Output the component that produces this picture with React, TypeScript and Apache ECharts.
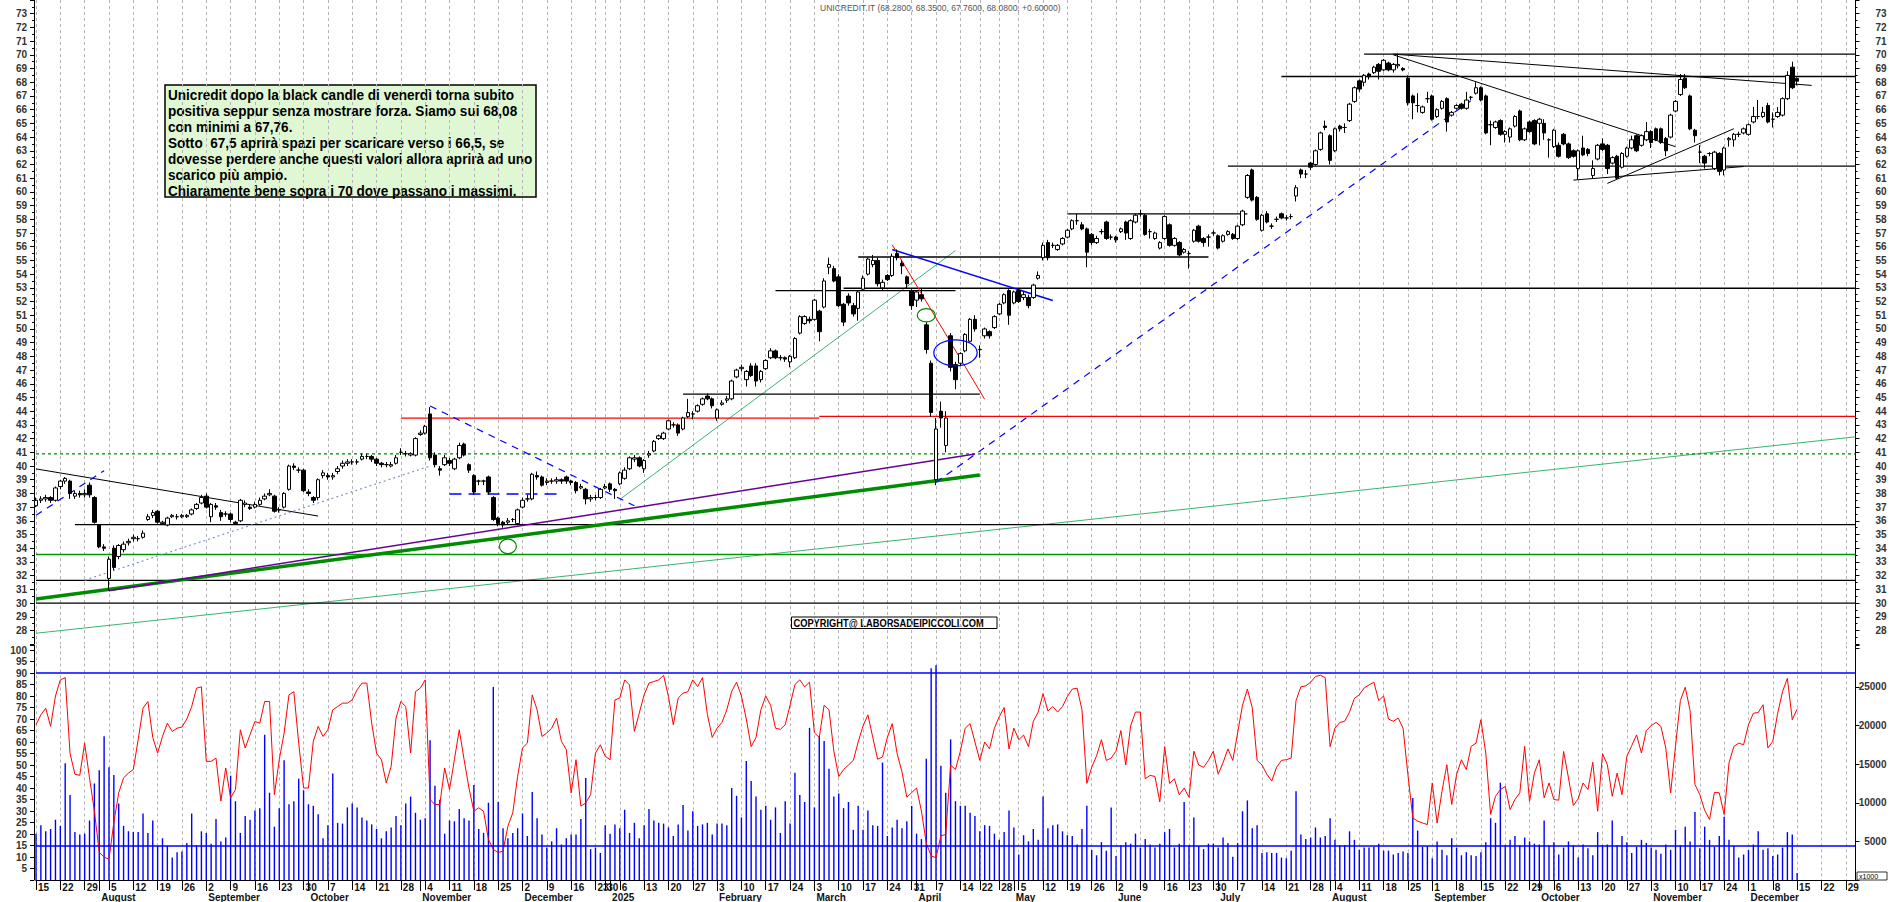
import React, { useEffect, useRef } from 'react';
import * as echarts from 'echarts';

const FONT = 'Liberation Sans, Arial, sans-serif';
const HOLIDAYS = ['2024-12-24', '2024-12-25', '2024-12-26', '2024-12-31', '2025-01-01', '2025-04-18', '2025-04-21', '2025-05-01'];
const LAST_DATA_DAY = '2025-12-15';
const MONTH_NAMES = ['January', 'February', 'March', 'April', 'May', 'June', 'July', 'August', 'September', 'October', 'November', 'December'];

// OHLC per month: [open, close, low, high]
const jul24 = [[37.1,37.5,37.0,37.7],[37.5,37.6,37.3,37.8],[37.6,37.7,37.4,37.9],[37.7,37.5,37.3,37.8],[37.5,38.4,37.4,38.5],[38.5,38.9,38.3,39.0],[38.9,39.1,38.7,39.2],[38.9,38.0,37.6,39.0],[37.8,38.0,37.6,38.2],[38.0,37.9,37.7,38.2],[37.9,38.0,37.7,38.3],[38.6,37.9,37.7,38.8],[37.7,35.9,35.8,37.8]];
const aug24 = [[35.7,34.1,34.0,35.7],[34.1,34.0,33.8,34.3],[31.8,33.2,30.9,33.4],[34.0,32.6,32.4,34.2],[33.4,34.2,33.2,34.3],[33.9,34.3,33.7,34.5],[34.4,34.5,34.2,34.7],[34.7,34.8,34.5,35.0],[34.7,34.7,34.5,34.9],[34.8,35.1,34.7,35.3],[36.1,36.3,36.0,36.5],[36.4,36.6,36.2,36.8],[36.7,35.9,35.8,36.8],[35.8,35.9,35.7,36.0],[35.7,36.2,35.6,36.3],[36.3,36.4,36.2,36.5],[36.3,36.3,36.1,36.5],[36.3,36.4,36.2,36.5],[36.3,36.4,36.2,36.5],[36.5,36.8,36.4,36.9],[36.9,37.2,36.8,37.3],[37.3,37.7,37.2,37.9]];
const sep24 = [[37.8,37.0,36.9,38.0],[36.3,37.2,35.9,37.3],[37.1,37.0,36.8,37.3],[36.6,36.3,36.0,36.8],[36.5,36.5,36.3,36.7],[36.5,36.1,35.9,36.6],[35.9,35.8,35.7,36.0],[36.0,37.5,35.9,37.6],[37.2,37.3,37.0,37.5],[37.0,36.9,36.8,37.2],[37.0,37.2,36.9,37.4],[37.2,37.5,37.1,37.7],[37.6,37.8,37.5,38.0],[37.9,38.0,37.8,38.3],[37.8,36.7,36.6,37.9],[36.8,36.8,36.6,37.0],[37.0,38.0,36.9,38.1],[38.3,40.0,38.2,40.1],[40.0,39.9,39.7,40.2],[39.7,39.7,39.5,39.9],[39.7,38.2,38.1,39.8]];
const oct24 = [[38.1,38.0,37.8,38.3],[37.7,37.5,37.3,37.8],[37.7,39.0,37.5,39.1],[39.3,39.5,39.1,39.7],[39.3,39.2,39.0,39.5],[39.2,39.3,39.0,39.5],[39.6,39.8,39.4,40.0],[40.0,40.2,39.8,40.4],[40.2,40.3,40.0,40.5],[40.3,40.3,40.1,40.5],[40.3,40.3,40.1,40.5],[40.5,40.7,40.4,40.9],[40.7,40.7,40.5,40.9],[40.7,40.5,40.3,40.8],[40.5,40.2,40.0,40.6],[40.2,40.1,39.9,40.3],[40.1,40.1,39.9,40.3],[40.0,40.1,39.9,40.3],[40.2,40.6,40.1,40.8],[41.0,41.0,40.8,41.3],[40.9,40.9,40.7,41.1],[40.8,40.9,40.7,41.0],[40.8,42.0,40.7,42.1]];
const nov24 = [[42.3,42.4,42.2,42.6],[42.4,42.9,42.3,43.0],[43.8,40.6,40.4,44.3],[40.8,40.1,39.9,41.0],[39.8,39.7,39.3,40.0],[40.1,40.6,40.0,40.8],[40.4,40.2,40.0,40.6],[39.8,40.5,39.7,40.6],[40.6,41.5,40.5,41.7],[41.6,40.8,40.7,41.7],[40.1,39.7,39.5,40.2],[39.3,38.1,37.9,39.4],[38.9,38.9,38.6,39.0],[38.9,38.9,38.6,39.0],[39.2,38.1,37.9,39.3],[37.7,36.1,36.0,37.8],[36.2,35.8,35.6,36.3],[35.9,35.7,35.5,36.0],[35.9,36.0,35.7,36.2],[36.1,36.1,35.9,36.2],[35.8,36.8,35.7,36.9]];
const dec24 = [[37.0,37.5,36.9,37.7],[37.6,37.6,37.4,37.9],[37.6,39.4,37.5,39.5],[39.3,39.2,39.0,39.6],[39.2,38.6,38.5,39.3],[38.8,38.9,38.6,39.1],[38.9,38.9,38.7,39.1],[38.9,39.0,38.7,39.2],[39.0,38.9,38.7,39.1],[39.2,38.9,38.7,39.3],[38.9,38.8,38.6,39.0],[38.8,38.2,38.0,38.9],[38.4,38.5,38.3,38.7],[38.3,37.6,37.2,38.4],[37.6,37.7,37.4,37.9],[37.7,37.7,37.5,37.9],[37.7,38.3,37.6,38.4],[38.4,38.5,38.3,38.7]];
const jan25 = [[38.7,38.3,38.1,38.8],[38.3,38.2,37.6,38.4],[38.7,39.5,38.6,39.6],[39.1,39.7,39.0,39.9],[39.8,40.6,39.7,40.7],[40.5,40.6,40.3,40.8],[40.6,40.0,39.9,40.7],[39.8,40.4,39.5,40.5],[40.8,40.9,40.6,41.1],[41.1,41.8,41.0,41.9],[42.0,42.2,41.9,42.3],[42.0,42.4,41.9,42.5],[42.7,43.3,42.6,43.4],[43.0,43.0,42.8,43.2],[43.0,42.4,42.2,43.1],[42.7,43.5,42.6,43.6],[43.6,43.9,43.5,44.9],[43.8,43.8,43.4,44.0],[44.0,44.4,43.9,44.5],[44.5,44.9,44.4,45.0],[45.1,44.9,44.8,45.3],[44.9,44.4,44.2,45.0]];
const feb25 = [[43.5,44.1,43.3,44.2],[44.5,44.6,44.4,44.8],[44.8,44.9,44.6,45.1],[44.9,46.2,44.8,46.3],[46.5,47.0,46.4,47.1],[47.1,47.2,46.9,47.4],[46.3,46.9,45.8,47.0],[47.3,46.6,46.5,47.5],[47.3,46.2,45.8,47.5],[46.3,46.9,46.1,47.0],[47.1,47.7,47.0,47.8],[47.9,48.4,47.8,48.6],[48.4,47.9,47.8,48.5],[47.9,47.9,47.7,48.1],[47.9,47.8,47.6,48.0],[47.6,48.0,47.2,48.1],[47.9,49.3,47.8,49.4],[49.7,50.9,49.6,51.0],[50.4,50.9,50.3,51.0],[50.7,50.6,50.4,50.9]];
const mar25 = [[50.7,52.1,50.6,52.2],[51.3,49.8,49.1,51.4],[51.6,53.5,51.5,53.7],[54.5,54.7,54.0,55.2],[54.4,53.5,53.4,54.6],[53.8,51.7,51.6,54.0],[51.8,50.5,50.2,51.9],[52.4,51.9,51.7,52.6],[51.7,51.1,50.9,51.9],[51.5,52.7,50.6,52.8],[52.9,53.7,52.8,53.9],[54.0,55.1,53.9,55.2],[54.7,55.0,54.5,55.4],[55.0,53.3,53.1,55.2],[53.0,53.4,52.8,53.6],[53.9,53.6,53.5,54.0],[53.9,55.3,53.8,55.5],[55.5,55.2,55.0,55.8],[54.8,54.6,54.0,55.0],[53.8,53.3,53.0,53.9],[52.8,51.7,51.4,52.9]];
const apr25 = [[52.1,52.7,51.6,52.8],[52.5,52.2,52.0,53.0],[50.3,48.5,48.2,50.5],[47.5,43.9,43.6,47.7],[39.0,42.7,38.6,43.5],[44.0,43.5,42.8,44.7],[41.5,43.5,41.0,44.0],[49.5,47.2,46.9,49.7],[47.4,46.3,45.6,47.6],[47.5,48.2,47.3,48.3],[48.4,49.6,48.3,49.7],[49.1,50.7,49.0,50.8],[50.7,50.0,49.8,51.0],[48.5,48.5,47.9,48.8],[49.5,50.0,49.3,50.1],[49.8,49.5,49.3,49.9],[50.1,50.9,50.0,51.0],[51.1,51.8,51.0,51.9],[51.9,52.5,51.8,52.6],[52.8,51.0,50.3,52.9]];
const may25 = [[51.9,52.7,51.8,52.8],[52.8,52.0,51.9,52.9],[52.3,52.5,52.1,52.7],[52.3,51.7,51.5,52.5],[52.3,53.2,52.2,53.3],[53.7,53.9,53.6,54.2],[55.2,56.1,55.0,56.3],[56.3,55.2,55.0,56.5],[56.1,56.1,55.9,56.3],[55.8,56.1,55.7,56.2],[56.2,56.6,56.1,56.7],[56.7,57.2,56.6,57.3],[57.3,57.9,57.2,58.0],[57.9,57.9,57.6,58.4],[57.6,57.3,57.2,57.8],[57.3,55.6,54.5,57.4],[56.9,56.3,56.1,57.0],[56.3,56.6,56.2,56.8],[57.1,57.1,56.9,57.3],[57.8,56.6,56.5,57.9],[56.7,56.7,56.5,56.9]];
const jun25 = [[56.7,56.5,56.3,56.8],[57.1,57.3,57.0,57.4],[57.8,57.0,56.5,57.9],[56.6,57.9,56.5,58.0],[57.8,58.3,57.7,58.4],[58.4,58.4,58.2,58.7],[58.3,56.9,56.8,58.4],[57.1,57.1,56.6,57.3],[56.6,57.0,56.5,57.1],[55.9,56.3,55.8,56.4],[56.6,58.2,56.5,58.3],[57.6,56.1,56.0,57.7],[56.1,56.6,56.0,56.7],[56.3,55.4,55.3,56.4],[55.6,55.8,55.5,55.9],[55.5,55.5,54.4,55.7],[56.4,57.2,56.3,57.3],[57.5,56.4,56.3,57.6],[56.6,56.3,56.0,56.7],[56.7,56.7,56.0,56.9],[57.0,57.0,56.8,57.2]];
const jul25 = [[56.8,55.9,55.8,56.9],[56.4,56.8,56.3,56.9],[56.9,57.1,56.8,57.2],[56.9,56.6,56.5,57.0],[56.6,57.5,56.5,57.6],[57.6,58.6,57.5,58.7],[59.6,61.2,59.5,61.3],[61.6,59.4,59.3,61.7],[59.6,58.0,57.9,59.7],[57.2,58.3,57.1,58.4],[58.4,57.8,57.7,58.6],[57.5,57.5,57.3,57.7],[58.0,58.0,57.8,58.2],[58.4,58.1,58.0,58.5],[58.1,58.1,57.9,58.3],[58.2,58.2,58.0,58.4],[59.7,60.3,59.3,60.5],[61.6,61.3,61.0,61.7],[61.3,61.3,61.0,61.6],[62.1,61.8,61.6,62.2],[62.0,63.0,61.9,63.1],[63.1,64.3,63.0,64.4],[64.8,64.7,64.5,65.2]];
const aug25 = [[64.1,62.3,62.0,64.2],[63.0,64.6,62.9,64.7],[64.8,64.6,64.4,64.9],[64.7,64.7,64.3,65.0],[65.2,66.4,65.1,66.5],[66.6,67.6,66.5,67.7],[68.1,67.5,67.3,68.2],[68.0,68.5,67.7,68.6],[68.6,68.4,68.2,68.7],[68.7,69.1,68.6,69.2],[69.3,68.8,68.2,69.4],[68.9,69.6,68.8,69.7],[69.4,68.9,68.8,69.5],[68.9,69.3,68.7,69.4],[69.2,69.3,69.0,70.1],[69.0,68.9,68.8,69.1],[68.3,66.5,66.3,68.5],[67.0,66.5,65.3,67.1],[66.3,66.3,65.8,67.2],[65.8,66.2,65.7,66.3],[66.8,66.8,66.5,67.3]];
const sep25 = [[67.0,65.3,65.2,67.1],[65.5,66.0,65.4,66.1],[66.1,66.6,66.0,66.7],[66.8,65.1,64.4,66.9],[65.6,65.8,65.5,65.9],[66.1,66.3,66.0,66.4],[66.4,66.1,66.0,66.5],[66.1,66.7,66.0,67.3],[66.9,66.9,66.7,67.0],[67.2,67.6,67.1,68.0],[67.6,66.7,66.6,67.7],[67.0,64.3,64.2,67.1],[64.9,64.9,63.4,65.2],[64.7,65.1,64.6,65.2],[65.2,64.2,64.1,65.3],[64.2,64.4,63.6,64.5],[64.0,64.6,63.6,64.7],[64.8,65.5,64.7,65.6],[65.9,63.8,63.7,66.0],[63.8,64.6,63.7,64.7],[65.1,64.4,64.3,65.2],[65.2,63.5,63.4,65.3]];
const oct25 = [[65.0,65.3,63.4,65.4],[65.0,64.3,63.8,65.3],[63.8,63.8,62.5,63.9],[63.3,64.5,63.2,64.6],[63.4,62.6,62.5,63.6],[64.2,63.5,63.4,64.3],[63.5,62.5,62.4,63.6],[63.0,62.6,62.5,63.1],[61.7,63.0,60.9,63.1],[63.2,62.7,62.6,64.1],[63.1,62.8,62.6,63.2],[61.2,61.7,61.0,62.3],[62.4,63.4,62.3,63.5],[63.5,63.1,63.0,63.9],[63.4,61.7,61.3,63.5],[62.1,62.5,62.0,62.6],[62.6,61.0,60.9,62.7],[61.8,62.8,61.7,62.9],[62.6,63.2,62.5,63.3],[63.2,63.8,63.1,64.1],[64.1,63.0,62.9,64.2],[63.4,64.1,63.3,64.2],[63.8,64.4,63.7,65.1]];
const nov25 = [[64.4,63.6,63.2,64.5],[64.6,63.8,63.7,64.7],[64.6,63.6,63.5,64.7],[63.9,63.0,62.6,64.0],[64.0,65.6,63.9,65.7],[65.9,66.6,65.8,66.7],[67.1,68.2,67.0,68.6],[68.3,67.6,67.5,68.6],[67.0,64.6,64.5,67.1],[64.5,64.1,63.6,64.6],[62.9,62.9,62.1,63.4],[62.6,62.1,61.7,62.7],[62.8,62.8,62.6,62.9],[61.7,62.9,61.6,63.0],[62.8,61.5,61.2,62.9],[61.6,63.2,61.2,63.3],[63.8,63.9,63.3,64.0],[63.8,64.2,63.3,64.3],[64.2,64.2,64.0,64.4],[64.3,64.6,64.2,64.7]];
const dec25 = [[64.2,64.9,64.1,65.0],[65.1,65.5,65.0,66.2],[65.5,65.5,65.3,66.7],[65.5,65.8,65.4,66.2],[66.3,65.1,65.0,66.5],[65.3,65.3,64.7,65.8],[65.5,65.8,65.4,66.2],[65.6,66.8,65.5,66.9],[66.8,68.5,66.7,68.8],[69.1,67.6,67.5,69.5],[68.28,68.08,67.76,68.35]];

// Oscillator (red line, left scale 0-100 of lower panel)
const osc2024 = [67.5,71.8,74.7,66.8,80,87,88,55,46,45.5,59.5,44.4,30,12,10,9,25,37.9,44.4,46.5,48,61,74.7,77.6,62,55.2,62.4,68.2,64.6,66,66.5,70,75.4,83.4,84,51.6,51.6,53,34.3,48.7,35.7,39.3,65.3,57.4,63.2,68.9,68.2,77.6,77.6,37.1,52.3,63.9,80.5,81.9,59.5,40,40,60.3,66.8,62.4,65.3,74,75.4,76.9,76.9,78.3,82.7,85.6,85.6,68.2,55.2,52.3,42.2,49.4,70.4,77.6,75.4,55.2,81.9,83.4,87,35,32.8,32.8,48.7,39.3,52.3,65.3,52.3,40,29.9,31.4,29.9,17.6,13.3,11.9,12.6,23.4,29.2,45.1,57.4,59.5,80.5,74,62.4,63.9,66,70.4,60.3,56.7,37.9,52.3,32.1,33.5,37.1,55.2,58.8,53.8];
const oscH1_2025 = [52.3,78.3,79.1,87,84.8,64.6,72.6,80.5,85.6,86.3,87,89,79.8,67.5,79.1,81.2,81.9,87,84.1,88,72,62,66,68.5,74,82,86,80,70,58,62,74,80,76,66,65.5,67.5,76,85,87,84,86,64,62,76,74,56,45,48,50,52,60,67,71.8,62,52.5,53.5,62,68,55,47,36,38,40,30,16,10.5,9.7,19.2,19.8,50,48,56,66,68,60,52,60,57,66,71,75,57,66,61,63,58,69,73,81,73.5,75.4,73,75.4,79.8,83,83.4,74,42,49,54,61,52,53,56,65,50,67,73,73,44,45.5,45,34,58,42,44,37,40,36,56,50,49,52,56];
const oscH2_2025 = [46,51,57,52,64,76,83,75,52,50,46,43,49,52,52.3,53,78,84,84.4,86,88.5,89,88,58,66,68.5,69,73,79,80.5,83.5,84.8,86,78,80,70,69,70.4,66,45.8,27,25.6,24.8,24.1,42.2,24.8,38.6,50.1,32.8,45.8,52.3,48,58.1,59.5,69.7,55.2,28.5,36.4,39.3,40.7,30.6,35,37.9,58.1,34.2,46.5,52.3,35.7,42.2,35,34.7,55.9,44.4,32.4,35.3,42.2,39.3,51.2,29.9,54.9,50.1,36.4,46.5,37.1,53.8,58.4,63.1,55.2,65,67.1,68.5,66.8,57.4,37.9,58.1,78,83.8,73.7,41.5,37.1,30.3,26.3,38.1,37.9,28.5,50.9,58.1,59.5,58.8,67.5,72.5,72.8,76.2,57.4,60.3,72.5,81.9,87.7,69.7,74.3];

// Volume (right scale of lower panel, x1000)
const vol2024 = [6000,7100,6300,6600,7800,7000,15100,11000,6200,5900,6000,7700,12500,14200,18600,14600,13600,9900,7000,6300,6200,6200,8600,6100,7700,4400,5400,4400,2900,3600,3700,4800,8600,4500,6300,6100,4700,7900,5000,5500,13500,10200,6100,8300,7800,9000,9300,18800,11300,6900,9300,15500,9800,10200,13100,11600,9800,9600,8500,5400,7100,13800,7400,7300,9400,9900,9400,8100,7700,7200,6600,5400,6300,6800,8300,7100,9900,10800,8700,7800,8000,18100,12200,10400,6000,7700,7600,9200,8000,7700,12300,6600,6100,10000,25000,10100,6700,5400,6100,6700,8600,5700,11400,8000,5900,4200,5000,6700,4600,5400,5900,5900,7900,13200,4000,4200,3500,7100];
const volH1_2025 = [6000,7200,6700,9100,6100,7400,5400,7100,9200,7700,7400,7300,6800,5700,7200,9700,6400,8900,7000,7200,7400,5900,7300,7300,7100,11900,10900,8100,15400,12800,10800,9100,9600,7800,9400,6100,10200,7300,13900,11000,10100,19700,9400,18600,18000,14400,10800,11200,9300,10100,6500,9600,6500,9000,7100,7000,15200,5700,6800,7800,6700,7600,9600,6000,5300,15700,27400,27800,14800,11300,18200,10200,9600,9600,8700,8300,6300,7100,7000,6000,5200,6200,9000,6800,3300,5800,5000,6600,5200,10800,6700,7100,7200,6300,5800,5700,4600,6600,9600,3900,3200,4900,3800,9400,3100,4500,4900,4700,6000,4200,5300,4600,4200,4700,6200,6600,4200,4700,10100,4500,8100,4400,4000,4700,4700];
const volH2_2025 = [4200,5500,4800,3000,4800,8900,10300,6700,7100,3500,3600,3500,3500,2900,2800,3800,11500,5900,5300,5500,6800,5500,5700,8000,5200,4500,4500,6300,5200,3900,4200,4200,4300,4700,3800,3800,3300,3500,3700,3500,10600,6400,4300,4400,2800,5000,3900,3200,5400,4200,3200,3600,3200,3100,3600,4900,8000,7400,12600,4500,5200,5700,4500,5500,5000,4700,4600,7700,4500,4900,3300,4200,5000,4500,2900,4600,4100,3200,6200,4500,4600,7700,4500,5700,4900,3500,4300,5200,4800,4200,3900,3400,4600,3900,6500,4500,6900,5000,8800,4100,6900,5200,4300,5700,8200,5200,4400,2900,3300,3900,4600,6300,3900,4100,3100,3300,4200,6200,5900,900];

// Horizontal levels and trend lines: [startIndex, startPrice, endIndex, endPrice]
const blackLevels = [[272.6,70.05,374,70.05],[255.5,68.42,374,68.42],[244.6,61.88,374,61.88],[212,58.39,248.5,58.39],[168.5,55.25,241,55.25],[151.7,52.8,188.7,52.8],[165.7,52.97,374,52.97],[132.6,45.24,194,45.24],[8.4,35.72,374,35.72],[0,31.65,374,31.65],[0,30.0,374,30.0]];
const redLevels = [[75,43.5,161.4,43.5],[161.4,43.62,374,43.62]];
const greenLevels = [[0,33.54,374,33.54]];
const greenDottedLevels = [[0,40.88,374,40.88]];
const blackTrends = [[0,39.79,58,36.35],[279,70.05,365,67.77],[279,70.0,336.5,63.3],[323,60.62,349,64.61],[316,60.86,351,61.85]];
const thickGreenTrends = [[0,30.3,194,39.35]];
const purpleTrends = [[15,30.9,193,40.88]];
const seaGreenTrends = [[0,27.8,374,42.13],[119.5,37.56,188.9,55.72]];
const blueSolidTrends = [[176,55.8,209,52.07]];
const redTrends = [[176,56.14,195,44.87]];
const blueDashedTrends = [[0,36.4,14,39.66],[81,44.38,122.5,37.1],[185,38.81,295,66.67]];
const blueLongDashLevels = [[85,37.96,108,37.96]];
const dottedTrends = [[10,31.67,81,40.0]];
// Ellipses: [centerIndex, centerPrice]
const greenEllipses = [[97.2,34.14],[182.9,51.0]];
const blueEllipses = [[189.4,48.26]];

const NOTE_LINES = [
  'Unicredit dopo la black candle di venerdì torna subito',
  'positiva seppur senza mostrare forza. Siamo sui 68,08',
  'con minimi a 67,76.',
  'Sotto  67,5 aprirà spazi per scaricare verso i 66,5, se',
  'dovesse perdere anche questi valori allora aprirà ad uno',
  'scarico più ampio.',
  'Chiaramente bene sopra i 70 dove passano i massimi.',
];
const TITLE = 'UNICREDIT.IT (68.2800, 68.3500, 67.7600, 68.0800, +0.60000)';
const COPYRIGHT = 'COPYRIGHT@ LABORSADEIPICCOLI.COM';

function buildDates(): string[] {
  const out: string[] = [];
  const d = new Date(Date.UTC(2024, 6, 15));
  const end = Date.UTC(2025, 11, 31);
  while (d.getTime() <= end) {
    const dow = d.getUTCDay();
    const s = d.toISOString().slice(0, 10);
    if (dow !== 0 && dow !== 6 && !(s <= LAST_DATA_DAY && HOLIDAYS.includes(s))) out.push(s);
    d.setUTCDate(d.getUTCDate() + 1);
  }
  return out;
}

export default function App() {
  const ref = useRef<HTMLDivElement>(null);
  useEffect(() => {
    const chart = echarts.init(ref.current!, null, { renderer: 'svg' });
    const dates = buildDates();
    const weekKey = (s: string) => Math.floor((Date.parse(s + 'T00:00:00Z') / 86400000 + 3) / 7);
    const isWeekStart = dates.map((s, i) => i === 0 || weekKey(s) !== weekKey(dates[i - 1]));
    const isMonthStart = dates.map((s, i) => i > 0 && s.slice(0, 7) !== dates[i - 1].slice(0, 7));
    const candles = [...jul24, ...aug24, ...sep24, ...oct24, ...nov24, ...dec24, ...jan25, ...feb25, ...mar25, ...apr25, ...may25, ...jun25, ...jul25, ...aug25, ...sep25, ...oct25, ...nov25, ...dec25];
    const osc = [...osc2024, ...oscH1_2025, ...oscH2_2025];
    const vol = [...vol2024, ...volH1_2025, ...volH2_2025];

    const axisFont = { fontFamily: FONT, fontSize: 10, fontWeight: 'bold' as const, color: '#333' };
    const splitLine = { show: true, interval: (i: number) => isWeekStart[i], lineStyle: { color: '#b4b4b4', type: [3, 3] as any, width: 1 } };

    const lineSeries: any[] = [];
    const addLines = (segs: number[][], color: string, width: number, type: any, z = 4) => {
      segs.forEach((s) => {
        lineSeries.push({
          type: 'line', xAxisIndex: 0, yAxisIndex: 0, silent: true, symbol: 'none', z,
          data: [[s[0], s[1]], [s[2], s[3]]],
          lineStyle: { color, width, type },
        });
      });
    };
    addLines(seaGreenTrends, '#3cb371', 1, 'solid');
    addLines(blackLevels, '#000000', 1.3, 'solid');
    addLines(redLevels, '#ff0000', 1.3, 'solid');
    addLines(greenLevels, '#009900', 1.5, 'solid');
    addLines(greenDottedLevels, '#008800', 1.2, [3, 3]);
    addLines(blackTrends, '#000000', 1, 'solid');
    addLines(thickGreenTrends, '#008c00', 3.5, 'solid');
    addLines(purpleTrends, '#660099', 1.5, 'solid');
    addLines(blueSolidTrends, '#0000ff', 1.5, 'solid');
    addLines(redTrends, '#ff0000', 1, 'solid');
    addLines(blueDashedTrends, '#0000ff', 1.2, [7, 6]);
    addLines(blueLongDashLevels, '#0000ff', 1.6, [12, 7]);
    addLines(dottedTrends, '#7a96cc', 1.2, [2, 3]);

    const ellipseSeries = (pts: number[][], color: string, rx: number, ry: number) => ({
      type: 'custom', xAxisIndex: 0, yAxisIndex: 0, silent: true, z: 6,
      data: pts,
      renderItem: (params: any, api: any) => {
        const p = api.coord([api.value(0), api.value(1)]);
        return { type: 'ellipse', shape: { cx: p[0], cy: p[1], rx, ry }, style: { fill: 'none', stroke: color, lineWidth: 1.2 } };
      },
    });

    const option: any = {
      animation: false,
      backgroundColor: '#ffffff',
      grid: [
        { left: 36, right: 34.5, top: -2.5, height: 646.7 },
        { left: 36, right: 34.5, top: 645.4, height: 235.2 },
      ],
      xAxis: [
        { type: 'category', gridIndex: 0, data: dates, boundaryGap: false, axisLine: { show: false }, axisTick: { show: false }, axisLabel: { show: false }, splitLine },
        {
          type: 'category', gridIndex: 1, data: dates, boundaryGap: false,
          axisLine: { show: true, lineStyle: { color: '#000', width: 1 } },
          axisTick: { show: true, interval: (i: number) => isWeekStart[i], length: 10, lineStyle: { color: '#000' } },
          axisLabel: { ...axisFont, color: '#111', interval: (i: number) => isWeekStart[i], formatter: (v: string) => String(Number(v.slice(8, 10))), align: 'left', margin: 2, padding: [0, 0, 0, 2] },
          splitLine,
        },
        {
          type: 'category', gridIndex: 1, data: dates, boundaryGap: false, position: 'bottom', offset: 11,
          axisLine: { show: true, lineStyle: { color: '#000', width: 1 } },
          axisTick: { show: true, interval: (i: number) => isMonthStart[i], length: 11, lineStyle: { color: '#000' } },
          axisLabel: {
            ...axisFont, color: '#111', interval: (i: number) => isMonthStart[i], align: 'left', margin: 1, padding: [0, 0, 0, 2],
            formatter: (v: string) => { const m = Number(v.slice(5, 7)) - 1; return m === 0 ? v.slice(0, 4) : MONTH_NAMES[m]; },
          },
          splitLine: { show: false },
        },
      ],
      yAxis: [
        {
          type: 'value', gridIndex: 0, position: 'left', min: 27, max: 74, interval: 1, offset: 2,
          axisLine: { show: true, lineStyle: { color: '#000' } }, axisTick: { show: true, length: 4, lineStyle: { color: '#000' } },
          minorTick: { show: true, splitNumber: 2, length: 2, lineStyle: { color: '#000' } },
          axisLabel: { ...axisFont, margin: 7, formatter: (v: number) => (v >= 28 && v <= 73 ? String(v) : '') }, splitLine: { show: false },
        },
        {
          type: 'value', gridIndex: 0, position: 'right', min: 27, max: 74, interval: 1,
          axisLine: { show: true, lineStyle: { color: '#000' } }, axisTick: { show: true, length: 4, lineStyle: { color: '#000' } },
          minorTick: { show: true, splitNumber: 2, length: 2, lineStyle: { color: '#000' } },
          axisLabel: { ...axisFont, margin: 31, align: 'right', formatter: (v: number) => (v >= 28 && v <= 73 ? String(v) : '') }, splitLine: { show: false },
        },
        {
          type: 'value', gridIndex: 1, position: 'left', min: 0, max: 102, interval: 5, offset: 2,
          axisLine: { show: true, lineStyle: { color: '#000' } }, axisTick: { show: true, length: 4, lineStyle: { color: '#000' } },
          axisLabel: { ...axisFont, margin: 7, formatter: (v: number) => (v > 0 && v <= 100 ? String(v) : '') }, splitLine: { show: false },
        },
        {
          type: 'value', gridIndex: 1, position: 'right', min: 0, max: 30370, interval: 5000,
          axisLine: { show: true, lineStyle: { color: '#000' } }, axisTick: { show: true, length: 4, lineStyle: { color: '#000' } },
          axisLabel: { ...axisFont, margin: 31, align: 'right', formatter: (v: number) => (v > 0 && v <= 25000 ? String(v) : '') }, splitLine: { show: false },
        },
      ],
      series: [
        {
          type: 'bar', xAxisIndex: 1, yAxisIndex: 3, data: vol, barWidth: 1.4, silent: true,
          itemStyle: { color: '#0000ff' }, z: 2,
        },
        {
          type: 'line', xAxisIndex: 1, yAxisIndex: 2, data: osc, symbol: 'none', silent: true, z: 3,
          lineStyle: { color: '#ff0000', width: 1 },
          markLine: {
            silent: true, symbol: ['none', 'none'], label: { show: false },
            lineStyle: { color: '#0000ff', width: 1.5, type: 'solid' },
            data: [{ yAxis: 90 }, { yAxis: 15 }],
          },
        },
        ...lineSeries,
        {
          type: 'candlestick', xAxisIndex: 0, yAxisIndex: 0, data: candles, barWidth: 4, silent: true, z: 5,
          itemStyle: { color: '#ffffff', color0: '#000000', borderColor: '#000000', borderColor0: '#000000', borderWidth: 1 },
        },
        ellipseSeries(greenEllipses.slice(0, 1), '#008800', 8.5, 7.3),
        ellipseSeries(greenEllipses.slice(1), '#008800', 9, 6.7),
        ellipseSeries(blueEllipses, '#0000ff', 21.7, 13),
      ],
      graphic: [
        { type: 'text', x: 820, y: 3, z: 10, style: { text: TITLE, fontFamily: FONT, fontSize: 8.5, fill: '#555', verticalAlign: 'top' } },
        {
          type: 'group', x: 165, y: 85, z: 10,
          children: [
            { type: 'rect', shape: { x: 0, y: 0, width: 371, height: 112 }, style: { fill: '#dff8d3', stroke: '#000', lineWidth: 1.5 } },
            { type: 'text', x: 3, y: 2, scaleX: 0.97, style: { text: NOTE_LINES.join('\n'), fontFamily: FONT, fontSize: 14, fontWeight: 'bold', lineHeight: 16, fill: '#000', verticalAlign: 'top' } },
          ],
        },
        {
          type: 'group', x: 791.5, y: 617, z: 10,
          children: [
            { type: 'rect', shape: { x: 0, y: 0, width: 205.5, height: 11.5 }, style: { fill: '#fff', stroke: '#000', lineWidth: 1 } },
            { type: 'text', x: 2, y: 1, scaleX: 0.93, style: { text: COPYRIGHT, fontFamily: FONT, fontSize: 10, fontWeight: 'bold', fill: '#000', verticalAlign: 'top' } },
          ],
        },
        {
          type: 'group', x: 1857, y: 872, z: 10,
          children: [
            { type: 'rect', shape: { x: 0, y: 0, width: 30, height: 8 }, style: { fill: '#fff', stroke: '#000', lineWidth: 0.8 } },
            { type: 'text', x: 2, y: 1, style: { text: 'x1000', fontFamily: FONT, fontSize: 7, fill: '#000', verticalAlign: 'top' } },
          ],
        },
      ],
    };
    chart.setOption(option);
    return () => chart.dispose();
  }, []);
  return <div ref={ref} style={{ position: 'absolute', left: 0, top: 0, width: 1890, height: 902, background: '#fff' }} />;
}
